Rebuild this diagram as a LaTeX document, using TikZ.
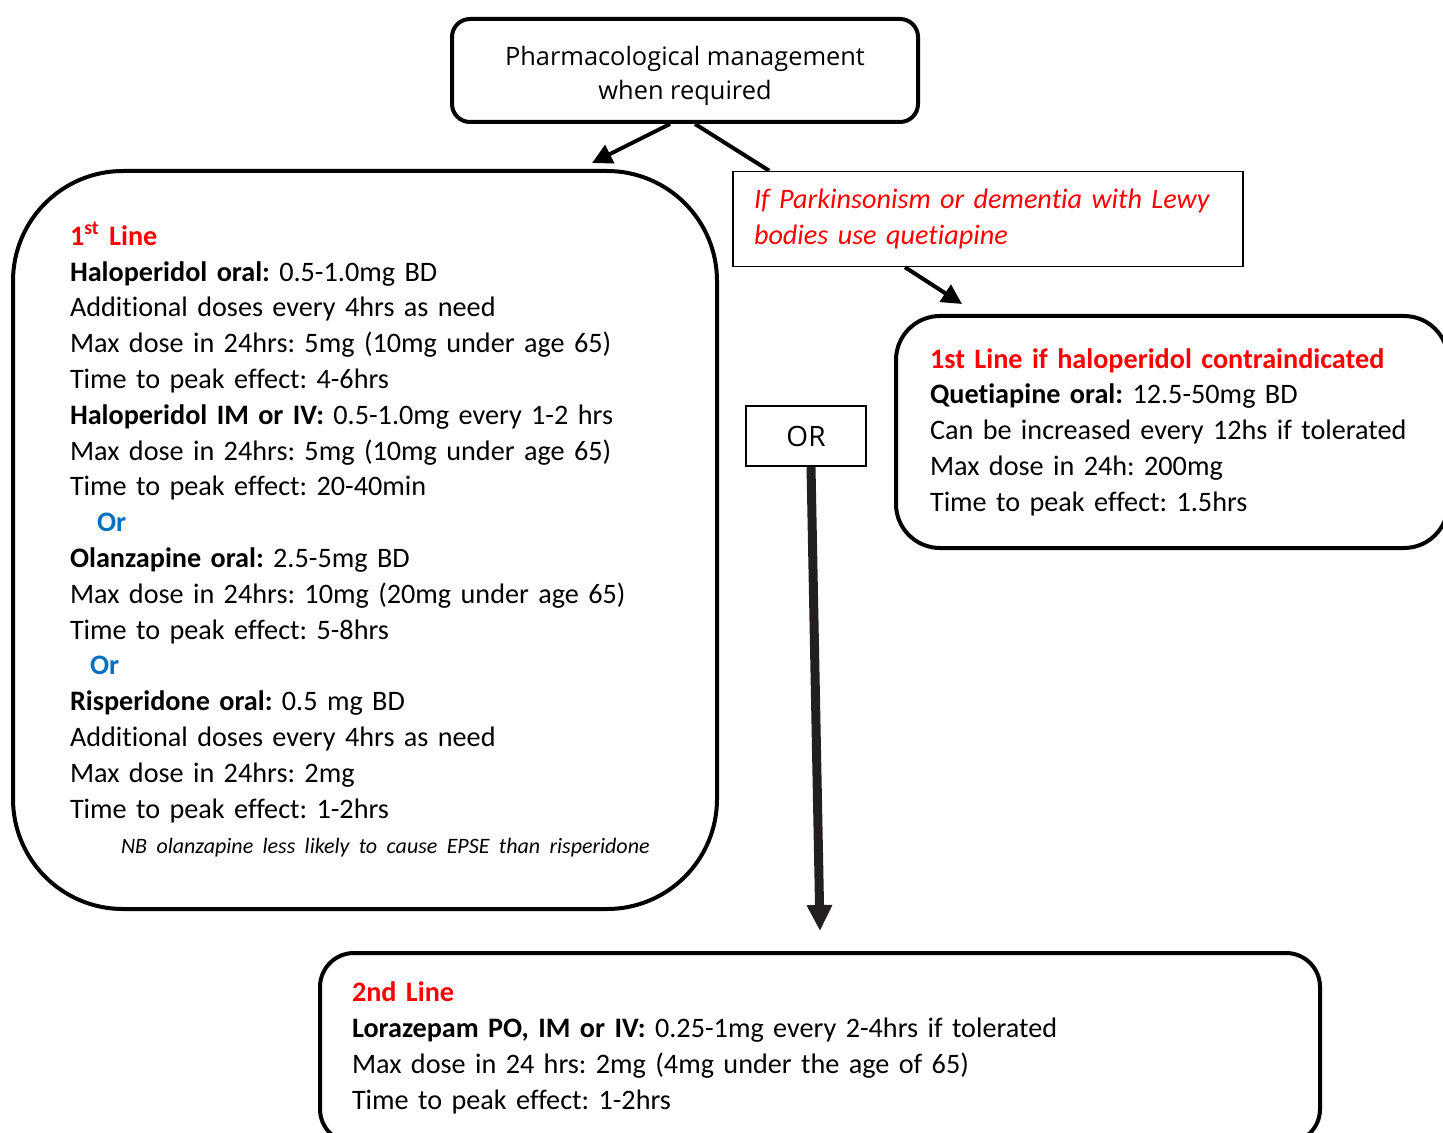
\documentclass[tikz,border=0pt]{standalone}
\usepackage{fontspec}
\setmainfont{Carlito}[Ligatures=NoCommon]
\newfontfamily\opensans{Open Sans}
\usetikzlibrary{arrows.meta}
\definecolor{linered}{HTML}{FF0000}
\definecolor{orblue}{HTML}{0070C0}
\definecolor{arrowgrey}{HTML}{231F20}
\frenchspacing
\hyphenpenalty=10000

\begin{document}
\begin{tikzpicture}[x=0.5pt,y=-0.5pt,
  txtbox/.style={draw,line width=2pt,align=left,inner ysep=0pt,font=\fontsize{14.1}{17.9}\selectfont},
  thinbox/.style={draw,line width=0.75pt,inner ysep=0pt},
  arr/.style={line width=2pt,-{Triangle[length=10pt,width=10pt]}}]
\useasboundingbox (0,0) rectangle (1443,1133);

\node[txtbox,rounded corners=9pt,font=\opensans\fontsize{12.7}{17}\selectfont,
  minimum width=233pt,minimum height=51.5pt] (top) at (685,70.5)
  {\raisebox{-2.5pt}[\height][\depth]{\begin{tabular}{@{}c@{}}Pharmacological management\\when required\end{tabular}}};

\node[txtbox,rounded corners=55pt,text width=295pt,inner xsep=28.5pt,minimum height=369pt] (first) at (365,540) {%
{\color{linered}\textbf{1\textsuperscript{st} Line}}\\
\textbf{Haloperidol oral:} 0.5-1.0mg BD\\
Additional doses every 4hrs as need\\
Max dose in 24hrs: 5mg (10mg under age 65)\\
Time to peak effect: 4-6hrs\\
\textbf{Haloperidol IM or IV:} 0.5-1.0mg every 1-2 hrs\\
Max dose in 24hrs: 5mg (10mg under age 65)\\
Time to peak effect: 20-40min\\
\hspace*{13.5pt}{\color{orblue}\textbf{Or}}\\
\textbf{Olanzapine oral:} 2.5-5mg BD\\
Max dose in 24hrs: 10mg (20mg under age 65)\\
Time to peak effect: 5-8hrs\\
\hspace*{10pt}{\color{orblue}\textbf{Or}}\\
\textbf{Risperidone oral:} 0.5 mg BD\\
Additional doses every 4hrs as need\\
Max dose in 24hrs: 2mg\\
Time to peak effect: 1-2hrs\\
\hspace*{25.5pt}{\fontsize{11}{14}\selectfont\itshape NB olanzapine less likely to cause EPSE than risperidone}};

\node[thinbox,text width=234pt,inner xsep=10.5pt,minimum height=47.5pt,align=left,
  font=\fontsize{14.1}{17.9}\selectfont\itshape,text=linered] (park) at (988,219)
  {If Parkinsonism or dementia with Lewy\\bodies use quetiapine};

\node[txtbox,rounded corners=22pt,text width=242pt,inner xsep=17pt,minimum height=116pt] (second) at (1172,432) {%
{\color{linered}\textbf{1st Line if haloperidol contraindicated}}\\
\textbf{Quetiapine oral:} 12.5-50mg BD\\
Can be increased every 12hs if tolerated\\
Max dose in 24h: 200mg\\
Time to peak effect: 1.5hrs};

\node[thinbox,minimum width=60pt,minimum height=30pt,font=\opensans\fontsize{14}{16}\selectfont] (or) at (806,436) {OR};

\node[txtbox,rounded corners=17pt,text width=468pt,inner xsep=16pt,minimum height=95pt] (third) at (820,1048) {%
{\color{linered}\textbf{2nd Line}}\\
\textbf{Lorazepam PO, IM or IV:} 0.25-1mg every 2-4hrs if tolerated\\
Max dose in 24 hrs: 2mg (4mg under the age of 65)\\
Time to peak effect: 1-2hrs};

\draw[arr] ([xshift=-7.5pt]top.south) -- ([xshift=113.5pt,yshift=3pt]first.north);
\draw[line width=2pt] ([xshift=5pt]top.south) -- ([xshift=18.5pt]park.north west);
\draw[arr] ([xshift=-41.5pt]park.south) -- ([xshift=-105pt,yshift=5pt]second.north);
\draw[line width=4.5pt,arrowgrey,-{Triangle[length=13pt,width=12pt]}] ([xshift=2.5pt]or.south) -- ([yshift=10pt]third.north);
\end{tikzpicture}
\end{document}
